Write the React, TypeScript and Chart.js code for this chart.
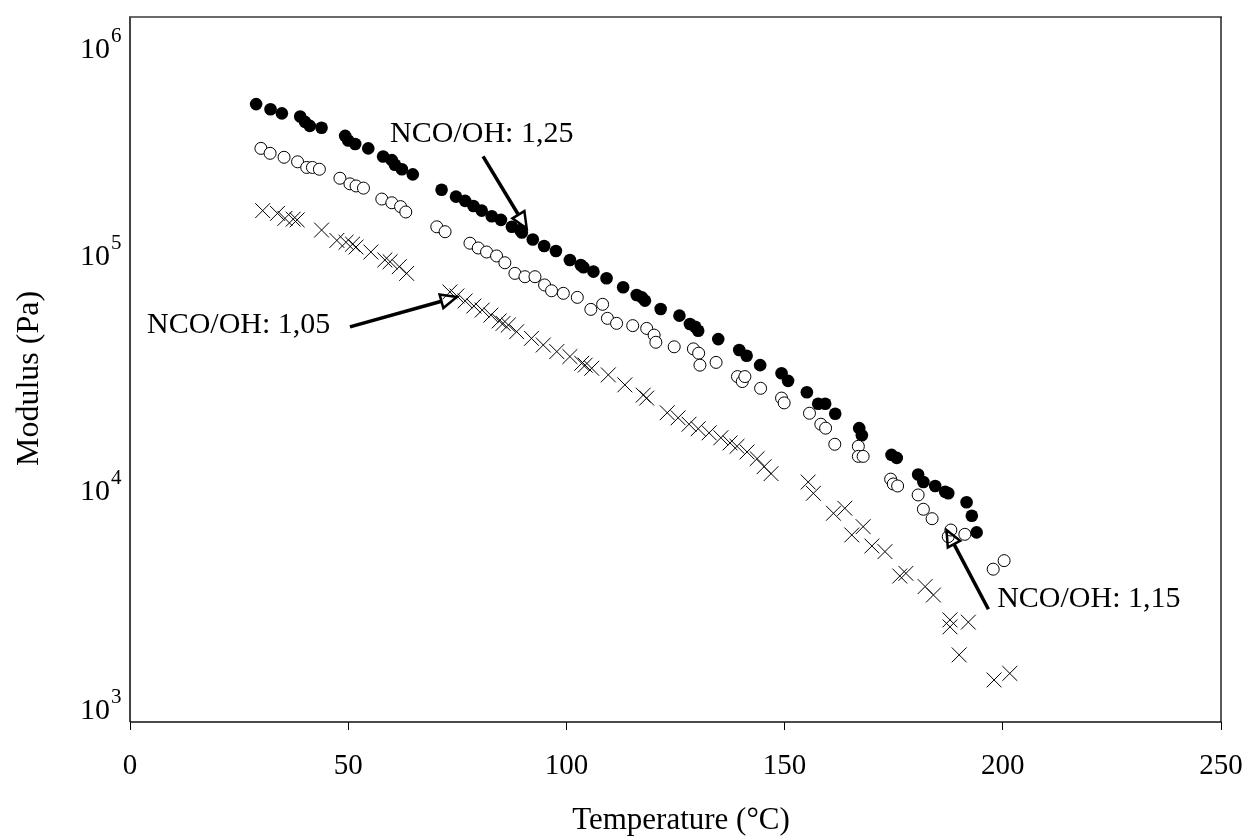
import React, { useEffect, useRef } from "react";
import { Chart, registerables } from "chart.js";

Chart.register(...registerables);

const FONT = '"Liberation Serif", "Times New Roman", serif';

// Axis ticks
const xTicks = [0, 50, 100, 150, 200, 250];
const yExponents = [3, 4, 5, 6];

// NCO/OH 1,25 (filled circles)
const temp125 = [28.9, 32.2, 34.8, 39.0, 40.1, 41.2, 43.9, 49.3, 50.0, 51.6, 54.6, 58.0, 60.0, 60.7, 62.3, 64.8, 71.4, 74.7, 76.8, 78.7, 80.6, 82.9, 85.0, 87.5, 89.4, 89.8, 92.3, 94.9, 97.6, 100.8, 103.3, 103.9, 106.2, 109.2, 113.0, 116.1, 117.3, 118.0, 121.6, 125.9, 128.3, 129.5, 130.2, 134.8, 139.6, 141.3, 144.4, 149.3, 150.8, 155.1, 157.7, 159.3, 161.6, 167.1, 167.7, 174.5, 175.7, 180.6, 181.8, 184.5, 186.8, 187.5, 191.7, 192.9, 194.0];
const mod125 = [426000, 405000, 389000, 377000, 358000, 344000, 338000, 312000, 298000, 288000, 276000, 255000, 246000, 235000, 225000, 214000, 184000, 172000, 165000, 157000, 150000, 142000, 137000, 128000, 124000, 121000, 113000, 106000, 101000, 92500, 88100, 86100, 82500, 77300, 70800, 65600, 64100, 62100, 57200, 53600, 49400, 48100, 46200, 42600, 38300, 36200, 33000, 30500, 28300, 25300, 22600, 22600, 20500, 17800, 16600, 13700, 13300, 11300, 10500, 10100, 9550, 9400, 8610, 7550, 6410];

// NCO/OH 1,15 (open circles)
const temp115 = [30.0, 32.1, 35.3, 38.4, 40.5, 41.8, 43.4, 48.1, 50.4, 51.8, 53.5, 57.7, 60.0, 62.0, 63.2, 70.3, 72.2, 77.9, 79.8, 81.7, 84.0, 85.9, 88.2, 90.5, 92.8, 95.0, 96.6, 99.3, 102.5, 105.6, 108.3, 109.4, 111.5, 115.2, 118.4, 120.1, 120.5, 124.7, 129.1, 130.3, 130.6, 134.3, 139.2, 140.3, 140.9, 144.5, 149.3, 149.9, 155.7, 158.3, 159.4, 161.5, 166.9, 166.9, 168.0, 174.3, 174.9, 175.9, 180.6, 181.8, 183.8, 187.5, 188.1, 191.3, 197.8, 200.3];
const mod115 = [276000, 263000, 253000, 242000, 229000, 229000, 225000, 206000, 195000, 191000, 187000, 168000, 162000, 156000, 148000, 128000, 122000, 109000, 104000, 100000, 96200, 90000, 81100, 78500, 78500, 72400, 68400, 66700, 64100, 57000, 59900, 52200, 49700, 48600, 47300, 44300, 41300, 39500, 38700, 37100, 33000, 33900, 29500, 28100, 29500, 26300, 23900, 22800, 20600, 18500, 17800, 15200, 14900, 13500, 13500, 10800, 10300, 10100, 9250, 8040, 7330, 6150, 6560, 6290, 4470, 4860];

// NCO/OH 1,05 (crosses)
const temp105 = [30.4, 33.8, 35.5, 37.4, 38.3, 43.9, 47.4, 49.5, 51.0, 51.8, 55.2, 58.4, 59.6, 61.7, 63.4, 73.3, 74.9, 76.8, 78.8, 80.7, 82.7, 84.6, 85.5, 86.7, 88.6, 92.0, 94.7, 97.8, 100.8, 103.5, 104.3, 105.8, 109.6, 113.4, 117.6, 118.4, 123.1, 125.6, 128.1, 130.2, 132.7, 135.4, 137.5, 139.1, 141.4, 143.7, 145.3, 146.9, 155.4, 156.6, 161.2, 163.8, 165.4, 168.0, 170.0, 173.0, 176.4, 177.8, 182.2, 184.1, 187.9, 187.9, 192.1, 190.0, 198.0, 201.6];
const mod105 = [150000, 146000, 139000, 138000, 137000, 124000, 112000, 110000, 108000, 105000, 100000, 92500, 90900, 86600, 81100, 67600, 65000, 61900, 58900, 56600, 53900, 50900, 49700, 48900, 45800, 42900, 40200, 37700, 35900, 33600, 33000, 32000, 30000, 27200, 24600, 23900, 20700, 19700, 18500, 17700, 17000, 16200, 15400, 14900, 14100, 13200, 12200, 11400, 10500, 9400, 7730, 8120, 6250, 6780, 5610, 5310, 4180, 4290, 3770, 3470, 2720, 2540, 2660, 1930, 1510, 1610];

// Annotations (text anchor and arrow start/tip in data coordinates)
const annotationTexts = ["NCO/OH: 1,25", "NCO/OH: 1,05", "NCO/OH: 1,15"];
const annotationTextAt = [[59.6, 294000], [3.9, 45200], [198.7, 3090]];
const arrowFrom = [[80.9, 255000], [50.4, 48000], [196.7, 3020]];
const arrowTo = [[90.9, 126000], [74.9, 64400], [187.1, 6560]];

const xTitle = "Temperature (°C)";
const yTitle = "Modulus (Pa)";

const toPoints = (xs: number[], ys: number[]) => xs.map((x, i) => ({ x, y: ys[i] }));

const decorPlugin = {
  id: "decor",
  afterDraw(chart: any) {
    const ctx = chart.ctx as CanvasRenderingContext2D;
    const { left, right, top, bottom } = chart.chartArea;
    const xs = chart.scales.x;
    const ys = chart.scales.y;
    ctx.save();

    // frame
    ctx.lineCap = "butt";
    ctx.strokeStyle = "#6a6a6a";
    ctx.lineWidth = 2;
    ctx.beginPath(); ctx.moveTo(left - 1, top); ctx.lineTo(right + 1, top); ctx.stroke();
    ctx.strokeStyle = "#444";
    ctx.beginPath(); ctx.moveTo(left, top); ctx.lineTo(left, bottom); ctx.stroke();
    ctx.strokeStyle = "#222";
    ctx.lineWidth = 1.5;
    ctx.beginPath(); ctx.moveTo(right, top); ctx.lineTo(right, bottom); ctx.stroke();
    ctx.strokeStyle = "#111";
    ctx.beginPath(); ctx.moveTo(left, bottom); ctx.lineTo(right, bottom); ctx.stroke();

    // y tick labels 10^n
    ctx.fillStyle = "#000";
    ctx.textBaseline = "alphabetic";
    yExponents.forEach((e) => {
      const py = ys.getPixelForValue(Math.pow(10, e));
      const base = Math.min(Math.max(py + 13, top + 41), bottom - 3);
      ctx.font = `30px ${FONT}`;
      ctx.textAlign = "right";
      ctx.fillText("10", left - 20, base);
      ctx.font = `21px ${FONT}`;
      ctx.textAlign = "left";
      ctx.fillText(String(e), left - 19, base - 16);
    });

    // axis titles
    ctx.font = `31px ${FONT}`;
    ctx.textAlign = "center";
    ctx.fillText(xTitle, 681, 829);
    ctx.save();
    ctx.translate(38, (top + bottom) / 2 + 9);
    ctx.rotate(-Math.PI / 2);
    ctx.font = `32px ${FONT}`;
    ctx.textAlign = "center";
    ctx.fillText(yTitle, 0, 0);
    ctx.restore();

    // annotations
    ctx.font = `30px ${FONT}`;
    ctx.textAlign = "left";
    annotationTexts.forEach((t, i) => {
      const tx = xs.getPixelForValue(annotationTextAt[i][0]);
      const ty = ys.getPixelForValue(annotationTextAt[i][1]);
      ctx.fillText(t, tx, ty);

      const x0 = xs.getPixelForValue(arrowFrom[i][0]);
      const y0 = ys.getPixelForValue(arrowFrom[i][1]);
      const x1 = xs.getPixelForValue(arrowTo[i][0]);
      const y1 = ys.getPixelForValue(arrowTo[i][1]);
      const a = Math.atan2(y1 - y0, x1 - x0);
      const L = 16, W = 7;
      const bx = x1 - L * Math.cos(a), by = y1 - L * Math.sin(a);
      ctx.strokeStyle = "#000";
      ctx.lineWidth = 3.5;
      ctx.beginPath(); ctx.moveTo(x0, y0); ctx.lineTo(bx, by); ctx.stroke();
      ctx.lineWidth = 2.5;
      ctx.lineJoin = "miter";
      ctx.beginPath();
      ctx.moveTo(x1, y1);
      ctx.lineTo(bx + W * Math.sin(a), by - W * Math.cos(a));
      ctx.lineTo(bx - W * Math.sin(a), by + W * Math.cos(a));
      ctx.closePath();
      ctx.stroke();
    });
    ctx.restore();
  },
};

export default function App() {
  const ref = useRef<HTMLCanvasElement | null>(null);
  useEffect(() => {
    if (!ref.current) return;
    const chart = new Chart(ref.current, {
      type: "scatter",
      data: {
        datasets: [
          {
            label: "NCO/OH: 1,05",
            data: toPoints(temp105, mod105),
            pointStyle: "crossRot",
            pointRadius: 10.5,
            borderColor: "#000",
            backgroundColor: "#000",
            borderWidth: 1,
          },
          {
            label: "NCO/OH: 1,15",
            data: toPoints(temp115, mod115),
            pointStyle: "circle",
            pointRadius: 6,
            borderColor: "#000",
            backgroundColor: "#fff",
            borderWidth: 1,
          },
          {
            label: "NCO/OH: 1,25",
            data: toPoints(temp125, mod125),
            pointStyle: "circle",
            pointRadius: 6.3,
            borderColor: "#000",
            backgroundColor: "#000",
            borderWidth: 0,
          },
        ],
      },
      options: {
        animation: false,
        responsive: false,
        maintainAspectRatio: false,
        events: [],
        layout: { padding: { left: 130, top: 17, right: 25, bottom: 0 } },
        plugins: { legend: { display: false }, tooltip: { enabled: false } },
        scales: {
          x: {
            type: "linear",
            min: xTicks[0],
            max: xTicks[xTicks.length - 1],
            afterFit: (s: any) => { s.height = 114; s.paddingLeft = 0; s.paddingRight = 0; },
            afterBuildTicks: (s: any) => { s.ticks = xTicks.map((v) => ({ value: v })); },
            ticks: {
              color: "#000",
              font: { family: FONT, size: 29 },
              padding: 19,
              maxRotation: 0,
              autoSkip: false,
            },
            grid: { display: true, drawOnChartArea: false, drawTicks: true, tickLength: 8, color: "#000", lineWidth: 1 },
            border: { display: false },
          },
          y: {
            type: "logarithmic",
            min: Math.pow(10, yExponents[0]),
            max: Math.pow(10, yExponents[yExponents.length - 1]),
            afterFit: (s: any) => { s.width = 0; s.paddingTop = 0; s.paddingBottom = 0; },
            ticks: { display: false },
            grid: { display: false },
            border: { display: false },
          },
        },
      },
      plugins: [decorPlugin],
    });
    return () => chart.destroy();
  }, []);
  return (
    <div style={{ position: "absolute", left: 0, top: 0, width: 1246, height: 836, background: "#fff" }}>
      <canvas ref={ref} width={1246} height={836} style={{ display: "block" }} />
    </div>
  );
}
